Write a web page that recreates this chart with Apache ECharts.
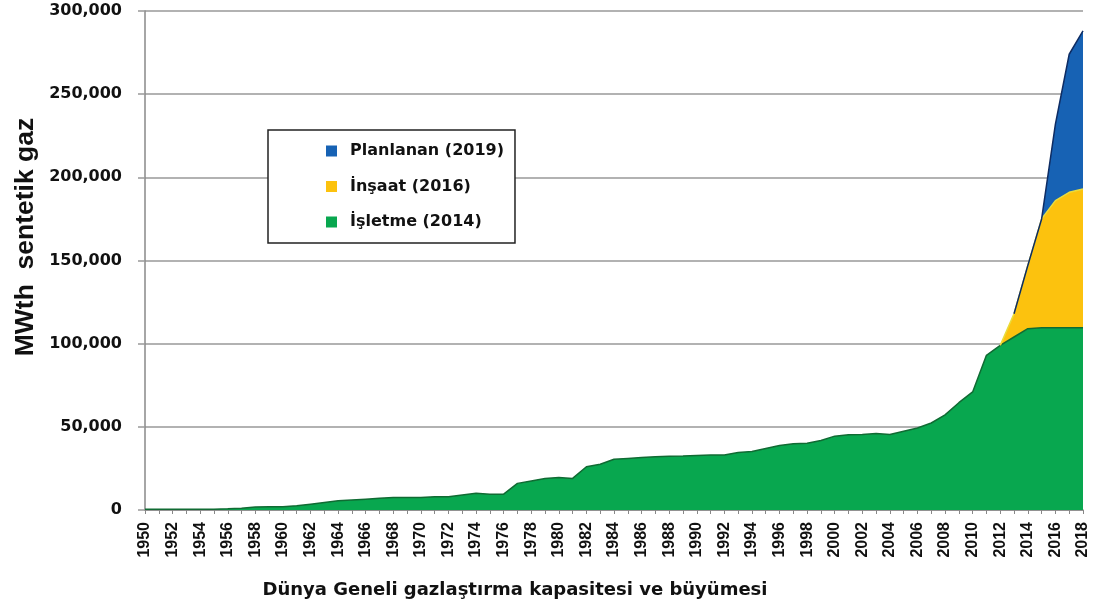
<!DOCTYPE html>
<html>
<head>
<meta charset="utf-8">
<script src="https://cdn.jsdelivr.net/npm/echarts@6/dist/echarts.min.js"></script>
<style>
html,body{margin:0;padding:0;background:#fff;}
#chart{width:1099px;height:610px;}
</style>
</head>
<body>
<div id="chart"></div>
<script>
const years = ['1950','1951','1952','1953','1954','1955','1956','1957','1958','1959',
'1960','1961','1962','1963','1964','1965','1966','1967','1968','1969',
'1970','1971','1972','1973','1974','1975','1976','1977','1978','1979',
'1980','1981','1982','1983','1984','1985','1986','1987','1988','1989',
'1990','1991','1992','1993','1994','1995','1996','1997','1998','1999',
'2000','2001','2002','2003','2004','2005','2006','2007','2008','2009',
'2010','2011','2012','2013','2014','2015','2016','2017','2018'];

const operating = [500,500,500,500,500,500,700,1000,1800,2000,
2000,2500,3500,4500,5500,6000,6500,7000,7500,7500,
7500,8000,8000,9000,10000,9500,9500,16000,17500,19000,
19500,19000,26000,27500,30500,31000,31500,32000,32300,32500,
32800,33000,33000,34600,35200,37000,38800,39800,40100,41800,
44400,45200,45400,46000,45400,47400,49300,52300,57200,64500,
71000,93000,99000,104000,109000,109500,109500,109500,109500];

const construction = [null,null,null,null,null,null,null,null,null,null,
null,null,null,null,null,null,null,null,null,null,
null,null,null,null,null,null,null,null,null,null,
null,null,null,null,null,null,null,null,null,null,
null,null,null,null,null,null,null,null,null,null,
null,null,null,null,null,null,null,null,null,null,
null,null,0,14000,38000,65500,76500,81500,83500];

const planned = [null,null,null,null,null,null,null,null,null,null,
null,null,null,null,null,null,null,null,null,null,
null,null,null,null,null,null,null,null,null,null,
null,null,null,null,null,null,null,null,null,null,
null,null,null,null,null,null,null,null,null,null,
null,null,null,null,null,null,null,null,null,null,
null,null,null,0,0,0,46000,83000,95000];

const yTicks = [0,50000,100000,150000,200000,250000,300000];
const seriesNames = ['İşletme (2014)','İnşaat (2016)','Planlanan (2019)'];

const chart = echarts.init(document.getElementById('chart'));
const FONT = 'Liberation Sans';
const WIDE = 'DejaVu Sans';
chart.setOption({
  animation:false,
  backgroundColor:'#fff',
  grid:{left:145,right:16,top:11,bottom:100},
  legend:{
    orient:'vertical',
    left:268, top:130,
    data:[seriesNames[2],seriesNames[1],seriesNames[0]],
    icon:'rect', itemWidth:11, itemHeight:11, itemGap:19.5,
    borderColor:'#222', borderWidth:1.5, backgroundColor:'#fff',
    padding:[13,11,13,58],
    textStyle:{fontFamily:WIDE,fontSize:16,lineHeight:16,fontWeight:'bold',color:'#111',padding:[0,0,0,8]}
  },
  xAxis:{
    type:'category', data:years, boundaryGap:false,
    axisLine:{lineStyle:{color:'#888',width:1.5}},
    axisTick:{interval:0,length:4,lineStyle:{color:'#888'}},
    axisLabel:{interval:1,rotate:90,fontFamily:FONT,fontSize:16,fontWeight:'bold',color:'#111',margin:12},
    splitLine:{show:false}
  },
  yAxis:{
    type:'value', min:yTicks[0], max:yTicks[yTicks.length-1], interval:50000,
    axisLine:{show:true,lineStyle:{color:'#888',width:1.5}},
    axisTick:{show:true,length:7,lineStyle:{color:'#999',width:1.5}},
    axisLabel:{fontFamily:WIDE,fontSize:16,fontWeight:'bold',color:'#111',margin:23,
      formatter:v=>v.toLocaleString('en-US')},
    splitLine:{lineStyle:{color:'#999',width:1.5}}
  },
  graphic:[
    {type:'text',x:26,y:237,rotation:Math.PI/2,
     style:{text:'MWth  sentetik gaz',font:'bold 26.5px "Liberation Sans"',fill:'#111',align:'center',verticalAlign:'middle'}},
    {type:'text',x:515,y:590,
     style:{text:'Dünya Geneli gazlaştırma kapasitesi ve büyümesi',font:'bold 18px "DejaVu Sans"',fill:'#111',align:'center',verticalAlign:'middle'}}
  ],
  series:[
    {name:seriesNames[0],type:'line',stack:'cap',data:operating,symbol:'none',
     itemStyle:{color:'#08a74f'},
     lineStyle:{color:'#106b33',width:1.5},
     areaStyle:{color:'#08a74f',opacity:1}},
    {name:seriesNames[1],type:'line',stack:'cap',data:construction,symbol:'none',
     itemStyle:{color:'#fcc20e'},
     lineStyle:{color:'#e9dc3c',width:1.5},
     areaStyle:{color:'#fcc20e',opacity:1}},
    {name:seriesNames[2],type:'line',stack:'cap',data:planned,symbol:'none',
     itemStyle:{color:'#1762b4'},
     lineStyle:{color:'#0e2c63',width:1.5},
     areaStyle:{color:'#1762b4',opacity:1}}
  ]
});
</script>
</body>
</html>
